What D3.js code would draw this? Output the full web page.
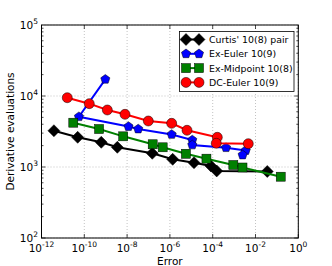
<!DOCTYPE html>
<html>
<head>
<meta charset="utf-8">
<script src="https://cdn.jsdelivr.net/npm/d3@7"></script>
<style>
  body { margin: 0; background: #fff; }
  text { font-family: "DejaVu Sans", sans-serif; }
</style>
</head>
<body>
<div class="chart"></div>
<script>
// values, in plotting order
var curtisErr = [3.8e-12, 4.9e-11, 6.2e-10, 3.5e-9, 1.5e-7, 1.35e-6, 1.34e-5, 8.3e-5, 1.54e-4, 3.55e-2];
var curtisEval = [3245, 2620, 2228, 1894, 1560, 1283, 1150, 1033, 880, 865];

var exEulerErr = [9.6e-10, 5.6e-11, 1.16e-8, 3.3e-8, 1.21e-6, 1.11e-5, 1.11e-5, 4.2e-4, 3.5e-3, 2.5e-3];
var exEulerEval = [17180, 5106, 3715, 3427, 2871, 2399, 2042, 1871, 1707, 1476];

var exMidErr = [3.06e-11, 4.9e-10, 6.6e-9, 1.57e-7, 4.6e-7, 5.6e-6, 5.1e-5, 9.2e-4, 2.47e-3, 0.151];
var exMidEval = [4207, 3427, 2703, 2090, 1894, 1537, 1310, 1067, 984, 730];

var dcEulerErr = [1.6e-11, 1.71e-10, 1.19e-9, 7.98e-9, 9.8e-8, 1.21e-6, 6.3e-6, 1.64e-4, 1.47e-4, 4.6e-3];
var dcEulerEval = [9460, 7800, 6355, 5520, 4446, 4122, 3290, 2620, 2158, 2129];

var seriesNames = ["Curtis' 10(8) pair", "Ex-Euler 10(9)", "Ex-Midpoint 10(8)", "DC-Euler 10(9)"];
var seriesColors = ["#000000", "#0000ff", "#008000", "#ff0000"];
var seriesMarkers = ["diamond", "pentagon", "square", "circle"];

var xTicks = [-12, -10, -8, -6, -4, -2, 0];
var yTicks = [2, 3, 4, 5];

var series = [
  { err: curtisErr, ev: curtisEval },
  { err: exEulerErr, ev: exEulerEval },
  { err: exMidErr, ev: exMidEval },
  { err: dcEulerErr, ev: dcEulerEval }
];

var width = 332, height = 266;
var margin = { left: 41.5, top: 25, right: 33.7, bottom: 28 };
var pw = width - margin.left - margin.right;
var ph = height - margin.top - margin.bottom;

var svg = d3.select('.chart')
  .append('svg')
  .attr('width', width)
  .attr('height', height);

var x = d3.scaleLog().domain([1e-12, 1]).range([margin.left, margin.left + pw]);
var y = d3.scaleLog().domain([1e2, 1e5]).range([margin.top + ph, margin.top]);

// grid
var grid = svg.append('g');
xTicks.forEach(function (e) {
  var px = x(Math.pow(10, e));
  grid.append('line')
    .attr('x1', px).attr('x2', px)
    .attr('y1', margin.top).attr('y2', margin.top + ph)
    .attr('stroke', '#9a9a9a').attr('stroke-width', 0.6)
    .attr('stroke-dasharray', '1,2');
});
yTicks.forEach(function (e) {
  var py = y(Math.pow(10, e));
  grid.append('line')
    .attr('x1', margin.left).attr('x2', margin.left + pw)
    .attr('y1', py).attr('y2', py)
    .attr('stroke', '#9a9a9a').attr('stroke-width', 0.6)
    .attr('stroke-dasharray', '1,2');
});

// ticks (inward, on all four sides)
var ticks = svg.append('g').attr('stroke', '#000').attr('stroke-width', 0.7);
xTicks.forEach(function (e) {
  var px = x(Math.pow(10, e));
  ticks.append('line').attr('x1', px).attr('x2', px)
    .attr('y1', margin.top + ph).attr('y2', margin.top + ph - 4);
  ticks.append('line').attr('x1', px).attr('x2', px)
    .attr('y1', margin.top).attr('y2', margin.top + 4);
});
for (var d = 2; d < 5; d++) {
  for (var m = 1; m < 10; m++) {
    var py = y(m * Math.pow(10, d));
    var len = m === 1 ? 4 : 2;
    ticks.append('line').attr('x1', margin.left).attr('x2', margin.left + len)
      .attr('y1', py).attr('y2', py);
    ticks.append('line').attr('x1', margin.left + pw).attr('x2', margin.left + pw - len)
      .attr('y1', py).attr('y2', py);
  }
}

// tick labels
function powLabel(sel, exp) {
  sel.append('tspan').text('10');
  sel.append('tspan')
    .attr('dy', -5)
    .attr('font-size', '7.5px')
    .text(exp);
}
xTicks.forEach(function (e) {
  var t = svg.append('text')
    .attr('x', x(Math.pow(10, e)))
    .attr('y', margin.top + ph + 13.5)
    .attr('text-anchor', 'middle')
    .attr('font-size', '10.5px');
  powLabel(t, e);
});
yTicks.forEach(function (e) {
  var t = svg.append('text')
    .attr('x', margin.left - 3.5)
    .attr('y', y(Math.pow(10, e)) + 4)
    .attr('text-anchor', 'end')
    .attr('font-size', '10.5px');
  powLabel(t, e);
});

// axis labels
svg.append('text')
  .attr('x', margin.left + pw / 2)
  .attr('y', 264.5)
  .attr('text-anchor', 'middle')
  .attr('font-size', '10.5px')
  .text('Error');
svg.append('text')
  .attr('transform', 'translate(14,' + (margin.top + ph / 2) + ') rotate(-90)')
  .attr('text-anchor', 'middle')
  .attr('font-size', '10.5px')
  .text('Derivative evaluations');

// markers
function drawMarker(g, type, cx, cy, color) {
  if (type === 'diamond') {
    g.append('path')
      .attr('d', 'M' + cx + ',' + (cy - 6) + 'L' + (cx + 6) + ',' + cy + 'L' + cx + ',' + (cy + 6) + 'L' + (cx - 6) + ',' + cy + 'Z')
      .attr('fill', color).attr('stroke', '#000').attr('stroke-width', 0.5);
  } else if (type === 'square') {
    g.append('rect')
      .attr('x', cx - 4.5).attr('y', cy - 4.5)
      .attr('width', 9).attr('height', 9)
      .attr('fill', color).attr('stroke', '#000').attr('stroke-width', 0.5);
  } else if (type === 'circle') {
    g.append('circle')
      .attr('cx', cx).attr('cy', cy).attr('r', 5)
      .attr('fill', color).attr('stroke', '#000').attr('stroke-width', 0.5);
  } else {
    var pts = d3.range(5).map(function (i) {
      var a = -Math.PI / 2 + i * 2 * Math.PI / 5;
      return [cx + 4.8 * Math.cos(a), cy + 4.8 * Math.sin(a)];
    });
    g.append('path')
      .attr('d', 'M' + pts.join('L') + 'Z')
      .attr('fill', color).attr('stroke', '#000').attr('stroke-width', 0.5);
  }
}

var line = d3.line()
  .x(function (d) { return x(d[0]); })
  .y(function (d) { return y(d[1]); });

series.forEach(function (s, i) {
  var pts = s.err.map(function (e, j) { return [e, s.ev[j]]; });
  var g = svg.append('g');
  g.append('path')
    .attr('d', line(pts))
    .attr('fill', 'none')
    .attr('stroke', seriesColors[i])
    .attr('stroke-width', 2);
  pts.forEach(function (p) {
    drawMarker(g, seriesMarkers[i], x(p[0]), y(p[1]), seriesColors[i]);
  });
});

// frame
svg.append('rect')
  .attr('x', margin.left).attr('y', margin.top)
  .attr('width', pw).attr('height', ph)
  .attr('fill', 'none').attr('stroke', '#000').attr('stroke-width', 1);

// legend
var leg = svg.append('g');
leg.append('rect')
  .attr('x', 179.5).attr('y', 31.5)
  .attr('width', 114.5).attr('height', 60)
  .attr('fill', '#fff').attr('stroke', '#000').attr('stroke-width', 0.8);
seriesNames.forEach(function (name, i) {
  var ly = 39.5 + i * 14.3;
  leg.append('line')
    .attr('x1', 186).attr('x2', 199)
    .attr('y1', ly).attr('y2', ly)
    .attr('stroke', seriesColors[i]).attr('stroke-width', 2);
  drawMarker(leg, seriesMarkers[i], 186, ly, seriesColors[i]);
  drawMarker(leg, seriesMarkers[i], 199, ly, seriesColors[i]);
  leg.append('text')
    .attr('x', 209)
    .attr('y', ly + 3.5)
    .attr('font-size', '9.4px')
    .text(name);
});
</script>
</body>
</html>
